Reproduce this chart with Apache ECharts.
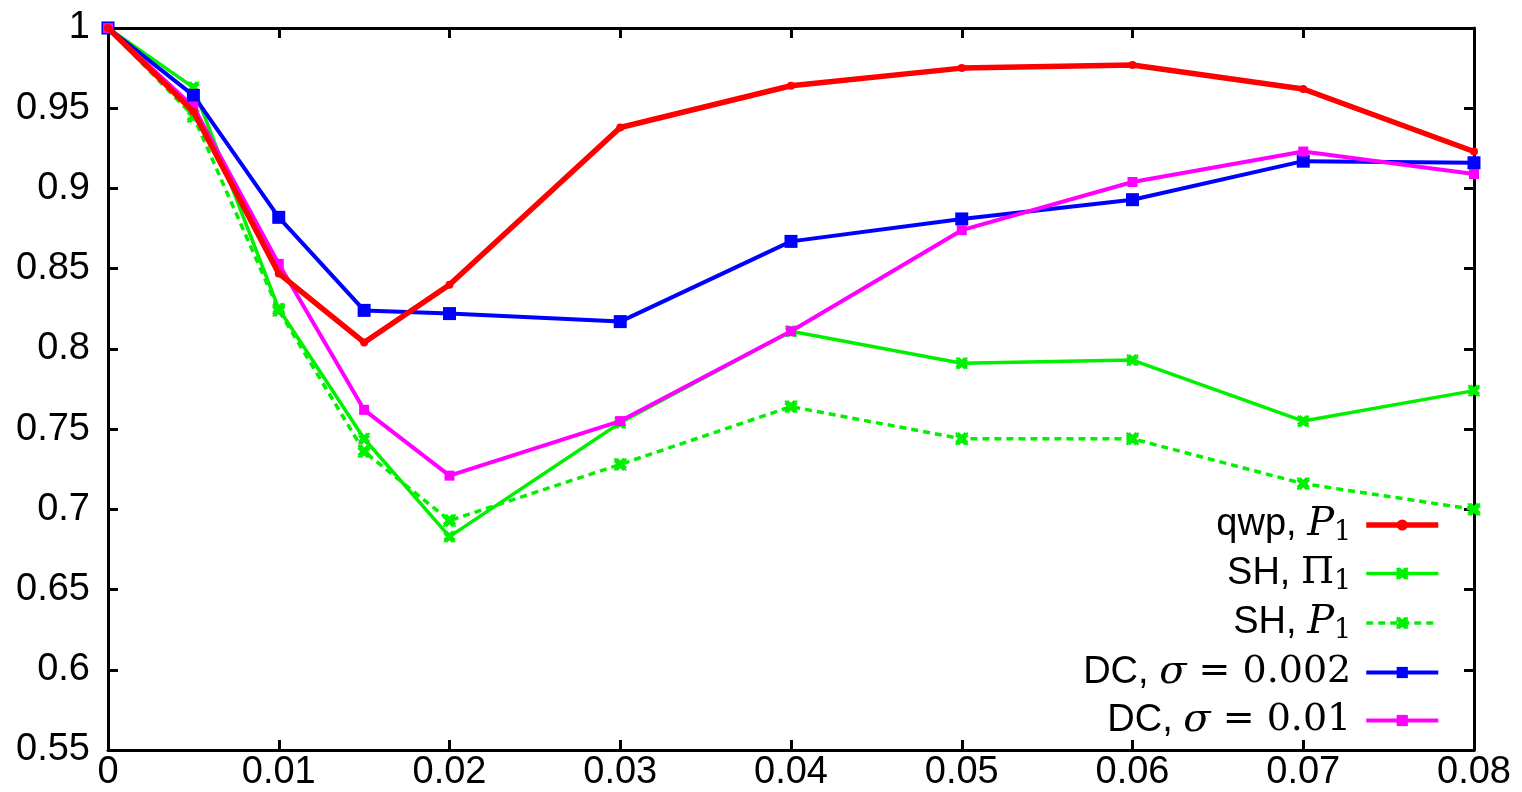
<!DOCTYPE html>
<html>
<head>
<meta charset="utf-8">
<script src="https://cdn.jsdelivr.net/npm/echarts@6/dist/echarts.min.js"></script>
<style>
  html, body { margin: 0; padding: 0; background: #fff; }
  #chart { width: 1522px; height: 792px; }
</style>
</head>
<body>
<div id="chart"></div>
<script>
// x positions (shared by all series)
const xVals = [0, 0.005, 0.01, 0.015, 0.02, 0.03, 0.04, 0.05, 0.06, 0.07, 0.08];
// series values
const qwpP1 = [1, 0.948, 0.847, 0.804, 0.840, 0.938, 0.964, 0.975, 0.977, 0.962, 0.923];
const shPi1 = [1, 0.963, 0.825, 0.744, 0.683, 0.754, 0.811, 0.791, 0.793, 0.755, 0.774];
const shP1 = [1, 0.945, 0.824, 0.736, 0.693, 0.728, 0.764, 0.744, 0.744, 0.716, 0.700];
const dc002 = [1, 0.958, 0.882, 0.824, 0.822, 0.817, 0.867, 0.881, 0.893, 0.917, 0.916];
const dc01 = [1, 0.951, 0.853, 0.762, 0.721, 0.755, 0.811, 0.874, 0.904, 0.923, 0.909];

const names = ["qwp, P1", "SH, Pi1", "SH, P1 dotted", "DC, 0.002", "DC, 0.01"];
// legend labels as rich text (sans text + math part)
const legendText = {
  "qwp, P1": "{t|qwp, }{m|P}{s|1}",
  "SH, Pi1": "{t|SH, }{r|Π}{s|1}",
  "SH, P1 dotted": "{t|SH, }{m|P}{s|1}",
  "DC, 0.002": "{t|DC, }{m|σ}{r| = 0.002}",
  "DC, 0.01": "{t|DC, }{m|σ}{r| = 0.01}"
};
const lineWidths = [5.5, 3.5, 3.5, 4, 4];

const crossPath = "path://M0,0 L10,10 M10,0 L0,10 M2,0 L10,8 M0,2 L8,10 M8,0 L0,8 M10,2 L2,10";

function pts(arr) {
  return xVals.map((x, i) => [x, arr[i]]);
}

const chart = echarts.init(document.getElementById("chart"));

const axisCommon = {
  axisLine: { show: true, onZero: false, lineStyle: { color: "#000", width: 3 } },
  axisTick: { show: true, inside: true, length: 10, lineStyle: { color: "#000", width: 3 } },
  splitLine: { show: false }
};

const option = {
  animation: false,
  backgroundColor: "#fff",
  grid: { left: 108, right: 48, top: 28, bottom: 42, containLabel: false },
  xAxis: [
    Object.assign({
      type: "value", min: 0, max: 0.08, interval: 0.01, position: "bottom",
      axisLabel: {
        color: "#000", fontSize: 38, fontFamily: "Liberation Sans", margin: 4,
        formatter: v => (v === 0 ? "0" : v.toFixed(2))
      }
    }, axisCommon),
    Object.assign({
      type: "value", min: 0, max: 0.08, interval: 0.01, position: "top",
      axisLabel: { show: false }
    }, axisCommon)
  ],
  yAxis: [
    Object.assign({
      type: "value", min: 0.55, max: 1, interval: 0.05, position: "left",
      axisLabel: {
        color: "#000", fontSize: 38, fontFamily: "Liberation Sans", margin: 18,
        formatter: v => String(parseFloat(v.toFixed(2)))
      }
    }, axisCommon),
    Object.assign({
      type: "value", min: 0.55, max: 1, interval: 0.05, position: "right",
      axisLabel: { show: false }
    }, axisCommon)
  ],
  legend: {
    orient: "vertical",
    right: 76,
    top: 500,
    align: "right",
    itemWidth: 72,
    itemHeight: 14,
    itemGap: 8,
    selectedMode: false,
    data: names.map((n, i) => ({ name: n, lineStyle: { width: lineWidths[i] } })),
    formatter: name => legendText[name],
    textStyle: {
      color: "#000",
      padding: [0, 10, 0, 0],
      rich: {
        t: { fontSize: 38, fontFamily: "Liberation Sans", color: "#000" },
        m: { fontSize: 40, fontFamily: "DejaVu Serif", fontStyle: "italic", color: "#000" },
        r: { fontSize: 38, fontFamily: "DejaVu Serif", color: "#000" },
        s: { fontSize: 27, fontFamily: "DejaVu Serif", color: "#000", padding: [16, 0, 0, 0] }
      }
    }
  },
  series: [
    {
      name: names[0], type: "line", data: pts(qwpP1),
      lineStyle: { color: "#ff0000", width: lineWidths[0] },
      itemStyle: { color: "#ff0000" },
      symbol: "circle", symbolSize: 8, z: 5
    },
    {
      name: names[1], type: "line", data: pts(shPi1),
      lineStyle: { color: "#00f000", width: lineWidths[1] },
      itemStyle: { color: "#00f000", borderColor: "#00f000", borderWidth: 2 },
      symbol: crossPath, symbolSize: 11, z: 3
    },
    {
      name: names[2], type: "line", data: pts(shP1),
      lineStyle: { color: "#00f000", width: lineWidths[2], type: [7, 5] },
      itemStyle: { color: "#00f000", borderColor: "#00f000", borderWidth: 2 },
      symbol: crossPath, symbolSize: 12, z: 3
    },
    {
      name: names[3], type: "line", data: pts(dc002),
      lineStyle: { color: "#0000ff", width: lineWidths[3] },
      itemStyle: { color: "#0000ff" },
      symbol: "rect", symbolSize: 13, z: 4
    },
    {
      name: names[4], type: "line", data: pts(dc01),
      lineStyle: { color: "#ff00ff", width: lineWidths[4] },
      itemStyle: { color: "#ff00ff" },
      symbol: "rect", symbolSize: 10, z: 4
    }
  ]
};

chart.setOption(option);
</script>
</body>
</html>
